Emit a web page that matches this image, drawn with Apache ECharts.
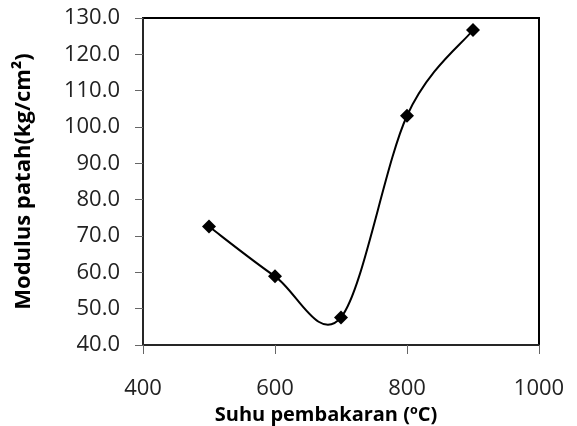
<!DOCTYPE html>
<html>
<head>
<meta charset="utf-8">
<script src="https://cdn.jsdelivr.net/npm/echarts@6/dist/echarts.min.js"></script>
<style>
  html, body { margin: 0; padding: 0; background: #fff; }
  #chart { width: 577px; height: 426px; }
</style>
</head>
<body>
<div id="chart"></div>
<script>
// suhu pembakaran (°C) dan modulus patah (kg/cm²)
const suhu = [500, 600, 700, 800, 900]
const modulusPatah = [72.6, 58.9, 47.6, 103.1, 126.7]
const xTicks = [400, 600, 800, 1000]
const yTicks = [40, 50, 60, 70, 80, 90, 100, 110, 120, 130]

const chart = echarts.init(document.getElementById('chart'))
const labelFont = 'Open Sans'
const points = suhu.map((x, i) => [x, modulusPatah[i]])

// garis halus ala Excel (bezier, tangen = (P[i+1]-P[i-1])/6), dihitung dari skala sumbu
function smoothLine(params, api) {
  if (params.dataIndex !== 0) return
  const p = points.map(d => api.coord(d))
  const n = p.length
  const children = []
  for (let i = 0; i < n - 1; i++) {
    const p0 = p[Math.max(i - 1, 0)]
    const p1 = p[i]
    const p2 = p[i + 1]
    const p3 = p[Math.min(i + 2, n - 1)]
    children.push({
      type: 'bezierCurve',
      shape: {
        x1: p1[0], y1: p1[1],
        cpx1: p1[0] + (p2[0] - p0[0]) / 6, cpy1: p1[1] + (p2[1] - p0[1]) / 6,
        cpx2: p2[0] - (p3[0] - p1[0]) / 6, cpy2: p2[1] - (p3[1] - p1[1]) / 6,
        x2: p2[0], y2: p2[1]
      },
      style: { stroke: '#000', lineWidth: 2, fill: null }
    })
  }
  return { type: 'group', children: children }
}

chart.setOption({
  animation: false,
  backgroundColor: '#fff',
  grid: {
    left: 143, right: 38, top: 18, bottom: 81,
    outerBoundsMode: 'none',
    show: true, borderColor: '#000', borderWidth: 2
  },
  xAxis: {
    type: 'value',
    min: xTicks[0],
    max: xTicks[xTicks.length - 1],
    interval: 200,
    name: 'Suhu pembakaran (\u00BAC)',
    nameLocation: 'middle',
    nameGap: 54,
    nameTextStyle: { fontFamily: labelFont, fontWeight: 'bold', fontSize: 20, color: '#000', padding: [0, 30, 0, 0] },
    axisLine: { show: true, lineStyle: { color: '#333', width: 1.5 } },
    axisTick: { show: true, inside: false, length: 9, lineStyle: { color: '#666' } },
    axisLabel: { margin: 33, fontFamily: labelFont, fontSize: 22, color: '#222', formatter: v => String(v) },
    splitLine: { show: false }
  },
  yAxis: {
    type: 'value',
    min: yTicks[0],
    max: yTicks[yTicks.length - 1],
    interval: 10,
    name: 'Modulus patah(kg/cm\u00B2)',
    nameLocation: 'middle',
    nameGap: 108,
    nameTextStyle: { fontFamily: labelFont, fontWeight: 'bold', fontSize: 22, color: '#000' },
    axisLine: { show: true, lineStyle: { color: '#333', width: 1.5 } },
    axisTick: { show: true, inside: false, length: 8, lineStyle: { color: '#666' } },
    axisLabel: {
      margin: 23, fontFamily: labelFont, fontSize: 22, color: '#222',
      formatter: v => v.toFixed(1)
    },
    splitLine: { show: false }
  },
  series: [
    {
      type: 'custom',
      data: points,
      encode: { x: 0, y: 1 },
      renderItem: smoothLine,
      z: 1
    },
    {
      type: 'scatter',
      data: points,
      symbol: 'diamond',
      symbolSize: 14,
      itemStyle: { color: '#000', opacity: 1 },
      z: 2
    }
  ]
})
</script>
</body>
</html>
